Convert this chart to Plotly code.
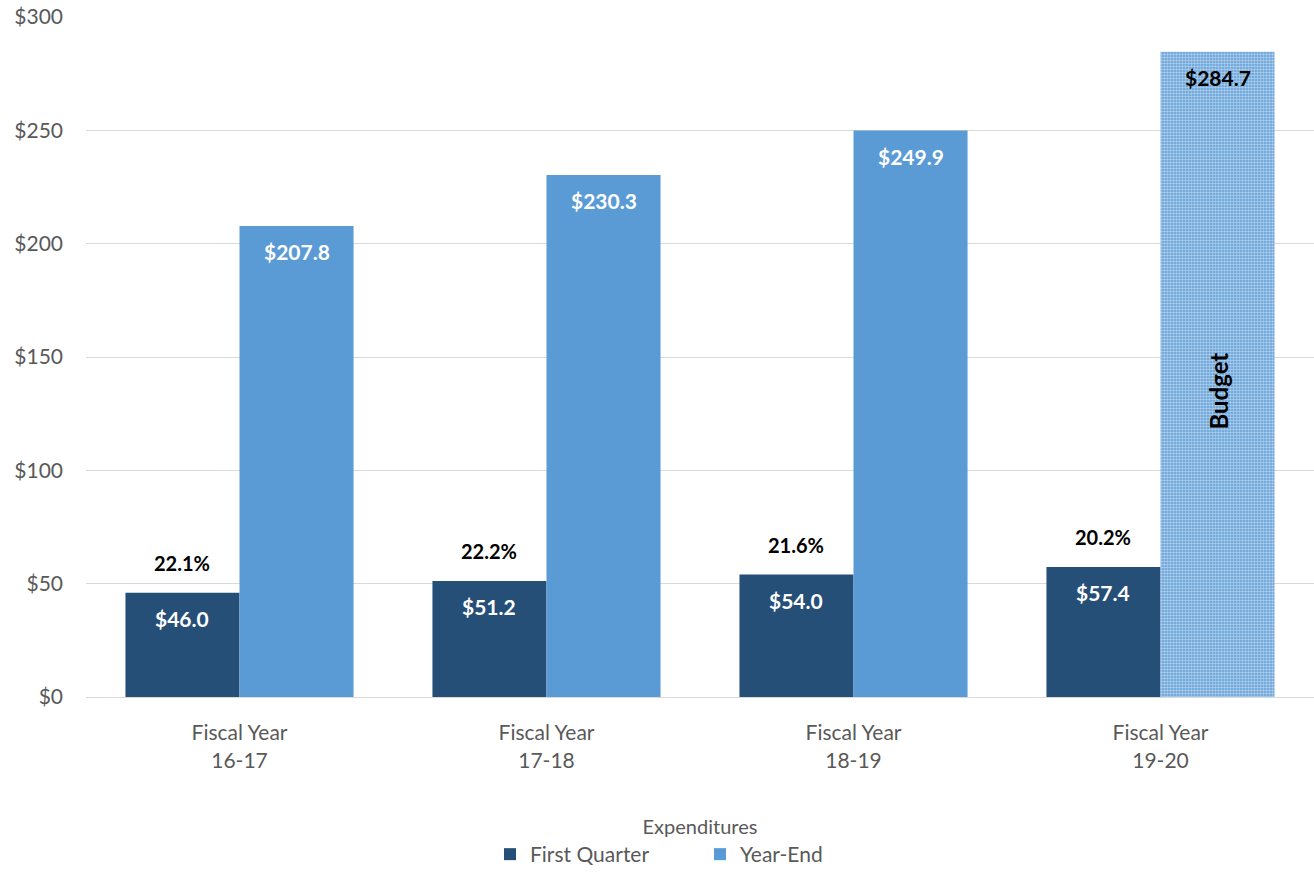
import plotly.graph_objects as go

categories = ["Fiscal Year<br>16-17", "Fiscal Year<br>17-18", "Fiscal Year<br>18-19", "Fiscal Year<br>19-20"]
first_quarter = [46.0, 51.2, 54.0, 57.4]
year_end = [207.8, 230.3, 249.9, 284.7]
pct_labels = ["22.1%", "22.2%", "21.6%", "20.2%"]
y_ticks = [0, 50, 100, 150, 200, 250, 300]
budget_label = "Budget"
budget_y = 135

DARK = "#264f78"
LIGHT = "#5b9bd5"
FONT = "Lato"
bargap = 0.257
off = (1 - bargap) / 4

fig = go.Figure()
fig.add_trace(go.Bar(
    name="First Quarter", x=list(range(4)), y=first_quarter,
    marker=dict(color=DARK, line=dict(width=0)),
    hoverinfo="y",
))
fig.add_trace(go.Bar(
    name="Year-End", x=list(range(4)), y=year_end,
    marker=dict(color=LIGHT, line=dict(width=0),
                pattern=dict(shape=["", "", "", "."], fgcolor="white",
                             bgcolor=LIGHT, size=3, solidity=0.6)),
    hoverinfo="y",
))

ann = []
for i, v in enumerate(first_quarter):
    ann.append(dict(x=i - off, y=v, xref="x", yref="y", text=f"<b>${v:.1f}</b>",
                    showarrow=False, yanchor="middle", yshift=-26,
                    font=dict(family=FONT, size=21, color="white")))
    ann.append(dict(x=i - off, y=v, xref="x", yref="y", text=f"<b>{pct_labels[i]}</b>",
                    showarrow=False, yanchor="middle", yshift=30,
                    font=dict(family=FONT, size=20, color="black")))
for i, v in enumerate(year_end):
    ann.append(dict(x=i + off, y=v, xref="x", yref="y", text=f"<b>${v:.1f}</b>",
                    showarrow=False, yanchor="middle", yshift=-26,
                    font=dict(family=FONT, size=21,
                              color="black" if i == len(year_end) - 1 else "white")))
ann.append(dict(x=3 + off, y=budget_y, xref="x", yref="y", text=f"<b>{budget_label}</b>",
                showarrow=False, textangle=-90,
                font=dict(family=FONT, size=24, color="black")))

fig.update_layout(
    width=1314, height=875,
    margin=dict(l=86, r=0, t=17, b=178),
    paper_bgcolor="white", plot_bgcolor="white",
    barmode="group", bargap=bargap, bargroupgap=0,
    font=dict(family=FONT, size=20, color="#595959"),
    xaxis=dict(tickmode="array", tickvals=list(range(4)), ticktext=categories,
               range=[-0.5, 3.5], showgrid=False, showline=True, linecolor="#d9d9d9",
               linewidth=1, ticks="", ticklabelstandoff=17, automargin=False,
               tickfont=dict(size=21, color="#595959")),
    yaxis=dict(range=[0, 300], tickmode="array", tickvals=y_ticks,
               ticktext=[f"${t}" for t in y_ticks], showgrid=True,
               gridcolor="#d9d9d9", gridwidth=1, zeroline=False, showline=False,
               ticks="", ticklabelstandoff=22, automargin=False,
               tickfont=dict(size=21, color="#595959")),
    legend=dict(orientation="h", x=0.5, xanchor="center",
                yref="container", y=0.0, yanchor="bottom",
                title=dict(text="Expenditures", side="top center",
                           font=dict(size=20, color="#595959")),
                font=dict(size=21, color="#595959"), itemwidth=30,
                entrywidth=165),
    annotations=ann,
    showlegend=True,
)

fig.write_html("out.html")
